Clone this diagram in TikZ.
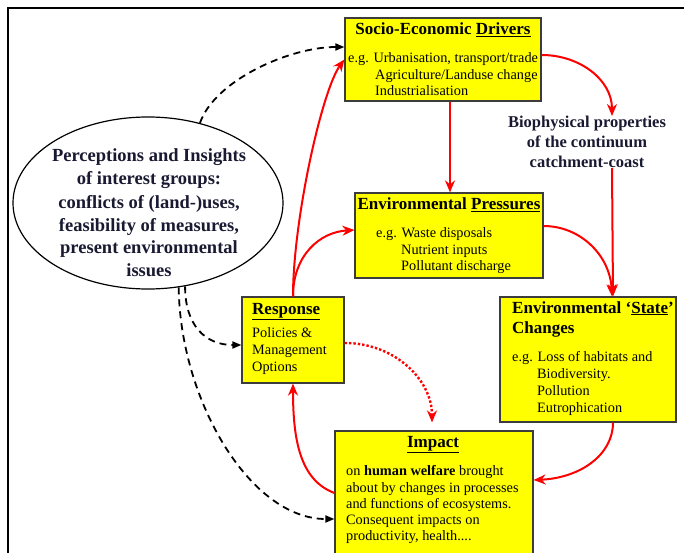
\documentclass[tikz,border=0pt]{standalone}
\usepackage{fontspec}
\setmainfont{Liberation Serif}
\usetikzlibrary{arrows.meta,shapes.geometric}
\definecolor{boxyellow}{RGB}{255,255,0}
\definecolor{boxline}{RGB}{60,60,60}
\definecolor{navytext}{RGB}{25,25,50}
\definecolor{arrred}{RGB}{255,0,0}
\begin{document}
\begin{tikzpicture}[x=1pt,y=-1pt,
  box/.style={draw=boxline, line width=1.2pt, fill=boxyellow, inner sep=0, rectangle},
  title/.style={font=\fontsize{17}{20}\selectfont\bfseries, inner sep=0, anchor=base},
  ln/.style={font=\fontsize{14.3}{17}\selectfont, inner sep=0, anchor=base west},
  eltxt/.style={font=\fontsize{18.5}{22}\selectfont\bfseries, inner sep=0, anchor=base, text=navytext},
  biotxt/.style={font=\fontsize{16.5}{20}\selectfont\bfseries, inner sep=0, align=center, text=navytext},
  redarr/.style={draw=arrred, line width=2pt, -{Stealth[length=12pt,width=10pt]}},
  blkarr/.style={draw=black, line width=1.8pt, dash pattern=on 7pt off 5pt, -{Triangle[length=9pt,width=7pt]}},
  dotarr/.style={draw=arrred, line width=2.4pt, dash pattern=on 2.4pt off 2pt, -{Stealth[length=12pt,width=10pt]}}
]
\useasboundingbox (0,0) rectangle (684,553);
\draw[line width=2pt] (8,560) -- (8,8) -- (690,8);

% boxes
\node[box, minimum width=196pt, minimum height=83pt] (socio) at (443,59.5) {};
\node[box, minimum width=188pt, minimum height=85pt] (press) at (449,235.5) {};
\node[box, minimum width=176pt, minimum height=125pt] (state) at (588,359.5) {};
\node[box, minimum width=102pt, minimum height=86pt] (resp) at (293,340) {};
\node[box, minimum width=198pt, minimum height=135pt] (impact) at (434,498.5) {};
\node[ellipse, draw, line width=1.2pt, minimum width=270pt, minimum height=172pt, inner sep=0] (ell) at (148,203) {};

% texts
\node[title] (socioT) at (443,35) {Socio-Economic \underline{Drivers}};
\node[ln] (socio1) at (348,63) {e.g. Urbanisation, transport/trade};
\node[ln] (socio2) at (375,80) {Agriculture/Landuse change};
\node[ln] (socio3) at (375,96) {Industrialisation};

\node[title] (pressT) at (449,210) {Environmental \underline{Pressures}};
\node[ln] (press1) at (376,237) {e.g. Waste disposals};
\node[ln] (press2) at (401,254) {Nutrient inputs};
\node[ln] (press3) at (401,270) {Pollutant discharge};

\node[title, anchor=base west] (stateT) at (512,313) {Environmental ‘\underline{State}’};
\node[title, anchor=base west] (stateT2) at (512,333) {Changes};
\node[ln] (state1) at (512,361) {e.g. Loss of habitats and};
\node[ln] (state2) at (537,378) {Biodiversity.};
\node[ln] (state3) at (537,395) {Pollution};
\node[ln] (state4) at (537,412) {Eutrophication};

\node[title, anchor=base west] (respT) at (252,314) {\underline{Response}};
\node[ln] (resp1) at (252,337) {Policies \&};
\node[ln] (resp2) at (252,354) {Management};
\node[ln] (resp3) at (252,371) {Options};

\node[title] (impT) at (433,447) {\underline{Impact}};
\node[ln] (imp1) at (346,475) {on \textbf{human welfare} brought};
\node[ln] (imp2) at (346,492) {about by changes in processes};
\node[ln] (imp3) at (346,508) {and functions of ecosystems.};
\node[ln] (imp4) at (346,524) {Consequent impacts on};
\node[ln] (imp5) at (346,540) {productivity, health....};

\node[eltxt] (el1) at (149,162) {Perceptions and Insights};
\node[eltxt] (el2) at (149,185) {of interest groups:};
\node[eltxt] (el3) at (149,208) {conflicts of (land-)uses,};
\node[eltxt] (el4) at (149,231) {feasibility of measures,};
\node[eltxt] (el5) at (149,253) {present environmental};
\node[eltxt] (el6) at (149,276) {issues};

\node[biotxt] (bio) at (587,142) {Biophysical properties\\of the continuum\\catchment-coast};

% red connectors
\draw[redarr] ([xshift=7pt]socio.south) -- ([xshift=1pt]press.north);
\draw[redarr] ([yshift=4.5pt]socio.east) .. controls (580,55) and (612,80) .. ([xshift=25pt]bio.north);
\draw[redarr] ([xshift=25pt]bio.south) -- ([xshift=25pt]state.north);
\draw[redarr] ([yshift=9.5pt]press.east) .. controls (580,226) and (610,255) .. ([xshift=24pt]state.north);
\draw[redarr] ([xshift=25pt]state.south) .. controls (613,455) and (580,478) .. ([yshift=18.5pt]impact.east);
\draw[redarr] ([yshift=5.5pt]impact.west) .. controls (300,480) and (293,440) .. (resp.south);
\draw[redarr] (resp.north) .. controls (293,220) and (322,90) .. (socio.west);
\draw[redarr] (resp.north) .. controls (293,255) and (320,232) .. ([yshift=5.5pt]press.west);
\draw[dotarr] ([yshift=-3pt]resp.east) .. controls (395,343) and (432,380) .. ([shift={(-2pt,8pt)}]impact.north);

% black dashed connectors
\draw[blkarr] (ell.57) .. controls (215,80) and (290,47) .. ([yshift=12.5pt]socio.west);
\draw[blkarr] (ell.-66) .. controls (185,325) and (205,345) .. ([yshift=-5pt]resp.west);
\draw[blkarr] (ell.-70) .. controls (180,400) and (250,519) .. ([yshift=-20.5pt]impact.west);
\end{tikzpicture}
\end{document}
